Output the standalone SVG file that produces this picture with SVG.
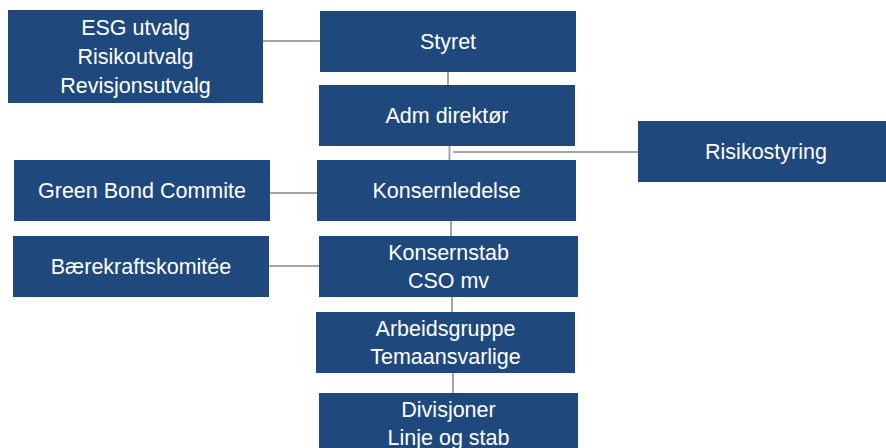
<svg xmlns="http://www.w3.org/2000/svg" width="886" height="448" viewBox="0 0 886 448">
<style>
.box{fill:#1F497D}
.t{font-family:"Liberation Sans",Arial,sans-serif;font-size:21.5px;fill:#FFFFFF;text-anchor:middle}
.c{stroke:#A5A5A5;stroke-width:2;fill:none}
</style>
<rect width="886" height="448" fill="#FFFFFF"/>
<g id="connectors">
<line class="c" x1="262" y1="41" x2="321" y2="41"/>
<line class="c" x1="448" y1="72" x2="448" y2="85"/>
<line class="c" x1="449.5" y1="146" x2="449.5" y2="160"/>
<line class="c" x1="453" y1="152" x2="638" y2="152"/>
<line class="c" x1="268" y1="193" x2="317" y2="193"/>
<line class="c" x1="451" y1="221" x2="451" y2="236"/>
<line class="c" x1="269" y1="266" x2="319" y2="266"/>
<line class="c" x1="452" y1="297" x2="452" y2="312"/>
<line class="c" x1="453" y1="373" x2="453" y2="393"/>
</g>
<g id="esg">
<rect class="box" x="8" y="10" width="255" height="93"/>
<text class="t" x="135.5" y="35">ESG utvalg</text>
<text class="t" x="135.5" y="64">Risikoutvalg</text>
<text class="t" x="135.5" y="93">Revisjonsutvalg</text>
</g>
<g id="styret">
<rect class="box" x="320" y="11" width="256" height="61"/>
<text class="t" x="448" y="49">Styret</text>
</g>
<g id="adm">
<rect class="box" x="319" y="85" width="256" height="61"/>
<text class="t" x="447" y="123">Adm direktør</text>
</g>
<g id="risikostyring">
<rect class="box" x="638" y="121" width="256" height="61"/>
<text class="t" x="766" y="159">Risikostyring</text>
</g>
<g id="greenbond">
<rect class="box" x="14" y="160" width="256" height="61"/>
<text class="t" x="142" y="198">Green Bond Commite</text>
</g>
<g id="konsernledelse">
<rect class="box" x="317" y="160" width="259" height="61"/>
<text class="t" x="446.5" y="198">Konsernledelse</text>
</g>
<g id="baerekraft">
<rect class="box" x="13" y="236" width="256" height="61"/>
<text class="t" x="141" y="274">Bærekraftskomitée</text>
</g>
<g id="konsernstab">
<rect class="box" x="319" y="236" width="259" height="61"/>
<text class="t" x="448.5" y="260">Konsernstab</text>
<text class="t" x="448.5" y="288">CSO mv</text>
</g>
<g id="arbeidsgruppe">
<rect class="box" x="316" y="312" width="259" height="61"/>
<text class="t" x="445.5" y="336">Arbeidsgruppe</text>
<text class="t" x="445.5" y="364">Temaansvarlige</text>
</g>
<g id="divisjoner">
<rect class="box" x="319" y="393" width="259" height="61"/>
<text class="t" x="448.5" y="417">Divisjoner</text>
<text class="t" x="448.5" y="445">Linje og stab</text>
</g>
</svg>
